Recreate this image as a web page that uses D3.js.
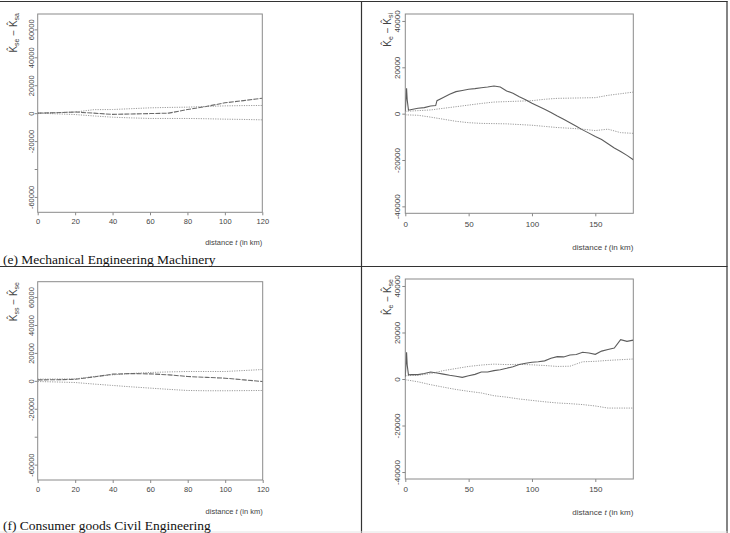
<!DOCTYPE html>
<html><head><meta charset="utf-8">
<script src="https://cdn.jsdelivr.net/npm/d3@7"></script>
<style>body{margin:0;background:#fff}svg{display:block}</style>
</head><body>
<svg id="c" width="730" height="533"></svg>
<script>
// ---------- data ----------
const captions = ["(e) Mechanical Engineering Machinery", "(f) Consumer goods Civil Engineering"];

const xTicksLeft = [0, 20, 40, 60, 80, 100, 120];
const xTicksRight = [0, 50, 100, 150];
const yTicksLeft = [-60000, -40000, -20000, 0, 20000, 40000, 60000];
const yLabelsLeft = ["-60000", "", "-20000", "0", "20000", "40000", "60000"];
const yTicksRight = [-40000, -20000, 0, 20000, 40000];
const yLabelsRight = ["-40000", "-20000", "0", "20000", "40000"];

// (e) left
const distE1 = [0, 10, 20, 30, 40, 50, 60, 70, 80, 90, 100, 110, 120];
const obsE1 = [0, 300, 800, 0, -900, -600, -300, 0, 2600, 4800, 7400, 9000, 10700];
const upE1 = [0, 400, 800, 2500, 2600, 3200, 3800, 4100, 4300, 4800, 5200, 5400, 5500];
const loE1 = [0, -500, -1000, -2000, -2900, -3400, -3800, -3800, -3800, -4000, -4300, -4500, -4800];

// (e) right
const distObsE2 = [0, 1, 1.5, 2.5, 5, 10, 15, 20, 24, 25, 30, 35, 40, 45, 50, 55, 60, 65, 70, 75, 80, 85, 90, 95, 100, 105, 110, 115, 120, 125, 130, 135, 140, 145, 150, 155, 160, 165, 170, 175, 180];
const obsE2 = [1000, 11000, 6000, 1500, 1800, 2300, 2600, 3300, 3500, 5600, 7000, 8400, 9500, 10000, 10500, 10800, 11200, 11500, 11900, 11500, 9800, 8800, 7300, 6000, 4500, 3200, 1900, 500, -1000, -2400, -3900, -5400, -7000, -8400, -9900, -11200, -13000, -14800, -16300, -18000, -19900];
const distEnvE2 = [0, 10, 20, 30, 40, 50, 60, 70, 80, 90, 100, 110, 120, 130, 140, 150, 160, 170, 180];
const upE2 = [1000, 1300, 1600, 2300, 3000, 3700, 4400, 5000, 5200, 5400, 5600, 6200, 6600, 6700, 6800, 6900, 7900, 8600, 9300];
const loE2 = [-500, -700, -1500, -2400, -3300, -3900, -4200, -4300, -4400, -4700, -5000, -5500, -6000, -6300, -6700, -7300, -6700, -8200, -8500];

// (f) left
const distF1 = [0, 10, 20, 30, 40, 50, 60, 70, 80, 90, 100, 110, 120];
const obsF1 = [700, 800, 1100, 2800, 4800, 5200, 5000, 4300, 3100, 2500, 1900, 700, -500];
const upF1 = [1200, 1300, 1400, 3100, 4300, 5300, 6000, 6400, 6700, 6700, 6700, 7400, 8100];
const loF1 = [-500, -800, -1200, -2300, -3300, -4300, -5200, -6100, -6900, -7100, -7100, -7000, -6900];

// (f) right
const distObsF2 = [0, 1, 1.5, 2.5, 5, 10, 15, 20, 25, 30, 35, 40, 45, 50, 55, 60, 65, 70, 75, 80, 85, 90, 95, 100, 105, 110, 115, 120, 125, 130, 135, 140, 145, 150, 155, 160, 165, 170, 175, 180];
const obsF2 = [1000, 11500, 6000, 1800, 1900, 1900, 2400, 3000, 2600, 2100, 1600, 1200, 700, 1400, 2000, 3000, 3000, 3600, 4000, 4600, 5300, 6200, 6800, 7200, 7400, 7800, 8900, 9600, 9500, 10300, 10500, 11500, 11200, 10600, 12000, 12700, 13300, 16900, 16200, 16700];
const distEnvF2 = [0, 10, 20, 30, 40, 50, 60, 70, 80, 90, 100, 110, 120, 130, 140, 150, 160, 170, 180];
const upF2 = [1400, 1600, 2300, 3600, 4500, 5400, 6000, 6400, 6200, 6300, 6100, 5800, 5400, 5500, 7400, 7600, 8000, 8300, 8600];
const loF2 = [-300, -1200, -2450, -3500, -4500, -5300, -6000, -7200, -7800, -8600, -9200, -9800, -10300, -10600, -11000, -11600, -12500, -12500, -12500];

// ---------- drawing ----------
const svg = d3.select("#c");
const zip = (xs, ys) => xs.map((x, i) => [x, ys[i]]);

// table lines
const tbl = svg.append("g").attr("stroke", "#333").attr("stroke-width", 1.2);
tbl.append("line").attr("x1", 0).attr("x2", 727.5).attr("y1", 1.5).attr("y2", 1.5);
tbl.append("line").attr("x1", 0).attr("x2", 727.5).attr("y1", 266.5).attr("y2", 266.5);
tbl.append("line").attr("x1", 361.5).attr("x2", 361.5).attr("y1", 1).attr("y2", 533);
tbl.append("line").attr("x1", 727).attr("x2", 727).attr("y1", 1).attr("y2", 533);
svg.append("line").attr("x1", 0).attr("x2", 727.5).attr("y1", 532).attr("y2", 532)
  .attr("stroke", "#e4e4e4").attr("stroke-width", 1);

function panel(o) {
  const x = d3.scaleLinear().domain(o.xDomain).range([o.x0, o.x1]);
  const y = d3.scaleLinear().domain(o.yDomain).range([o.y1, o.y0]);
  const g = svg.append("g");
  const fs = o.fs;

  // x axis
  const xa = g.append("g").attr("transform", `translate(0,${o.y1})`)
    .call(d3.axisBottom(x).tickValues(o.xTicks).tickSize(3).tickFormat(d3.format("d")));
  xa.select(".domain").remove();
  xa.selectAll("line").attr("stroke", "#888");
  xa.selectAll("text").attr("font-family", "Liberation Sans, Arial, sans-serif")
    .attr("font-size", fs).attr("fill", "#444").attr("dy", null).attr("y", o.xLabY - o.y1);

  // y axis
  const ya = g.append("g").attr("transform", `translate(${o.x0},0)`)
    .call(d3.axisLeft(y).tickValues(o.yTicks).tickSize(3).tickFormat((d, i) => o.yLabels[i]));
  ya.select(".domain").remove();
  ya.selectAll("line").attr("stroke", "#888");
  ya.selectAll("text").attr("font-family", "Liberation Sans, Arial, sans-serif")
    .attr("font-size", fs).attr("fill", "#444")
    .attr("x", null).attr("dy", null)
    .attr("text-anchor", "middle")
    .attr("transform", `translate(${o.yLabX - o.x0 + fs * 0.35},0) rotate(-90)`);

  // box
  g.append("rect").attr("x", o.x0).attr("y", o.y0).attr("width", o.x1 - o.x0).attr("height", o.y1 - o.y0)
    .attr("fill", "none").attr("stroke", "#8a8a8a").attr("stroke-width", 1);

  const line = d3.line().x(d => x(d[0])).y(d => y(d[1]));
  const clip = "clip" + o.id;
  g.append("clipPath").attr("id", clip).append("rect")
    .attr("x", o.x0).attr("y", o.y0).attr("width", o.x1 - o.x0).attr("height", o.y1 - o.y0);
  const pl = g.append("g").attr("clip-path", `url(#${clip})`).attr("fill", "none");
  pl.append("path").attr("d", line(zip(o.envX, o.up)))
    .attr("stroke", "#9a9a9a").attr("stroke-width", 1).attr("stroke-dasharray", "1.2,1.2");
  pl.append("path").attr("d", line(zip(o.envX, o.lo)))
    .attr("stroke", "#9a9a9a").attr("stroke-width", 1).attr("stroke-dasharray", "1.2,1.2");
  pl.append("path").attr("d", line(zip(o.obsX, o.obs)))
    .attr("stroke", o.dash ? "#6a6a6a" : "#5c5c5c").attr("stroke-width", 1.1)
    .attr("stroke-dasharray", o.dash || null);

  // y title
  const tfs = o.tfs;
  const yt = g.append("text").attr("font-family", "Liberation Sans, Arial, sans-serif")
    .attr("font-size", tfs).attr("fill", "#444").attr("text-anchor", "end")
    .attr("transform", `translate(${o.yTitleX},${o.yTitleY}) rotate(-90)`);
  yt.append("tspan").text("K\u0302");
  yt.append("tspan").attr("font-size", tfs - 3).attr("dy", 2).text(o.sub1);
  yt.append("tspan").attr("dy", -2).text(" \u2212 K\u0302");
  yt.append("tspan").attr("font-size", tfs - 3).attr("dy", 2).text(o.sub2);

  // x title
  const xt = g.append("text").attr("font-family", "Liberation Sans, Arial, sans-serif")
    .attr("font-size", fs).attr("fill", "#444").attr("text-anchor", "end")
    .attr("x", o.x1).attr("y", o.xTitleY);
  xt.append("tspan").text("distance ");
  xt.append("tspan").attr("font-style", "italic").text("t");
  xt.append("tspan").text(" (in km)");

  if (o.caption) {
    svg.append("text").attr("x", 3).attr("y", o.capY)
      .attr("font-family", "Liberation Serif, Times New Roman, serif").attr("font-size", 13.5)
      .attr("fill", "#111").text(o.caption);
  }
}

panel({id: "e1", x0: 37.7, x1: 262.3, y0: 14, y1: 212.3, xDomain: [0, 120], yDomain: [-71000, 71000],
  xTicks: xTicksLeft, yTicks: yTicksLeft, yLabels: yLabelsLeft, fs: 7.5, tfs: 10,
  xLabY: 224, yLabX: 31, yTitleX: 17, yTitleY: 13, xTitleY: 245, sub1: "se", sub2: "sa",
  obsX: distE1, obs: obsE1, envX: distE1, up: upE1, lo: loE1, dash: "5,1.2",
  caption: captions[0], capY: 263.5});

panel({id: "e2", x0: 405.3, x1: 633.3, y0: 14, y1: 213.3, xDomain: [0, 180], yDomain: [-43000, 43000],
  xTicks: xTicksRight, yTicks: yTicksRight, yLabels: yLabelsRight, fs: 8, tfs: 10,
  xLabY: 227, yLabX: 397, yTitleX: 391, yTitleY: 13, xTitleY: 249.5, sub1: "e", sub2: "si",
  obsX: distObsE2, obs: obsE2, envX: distEnvE2, up: upE2, lo: loE2});

panel({id: "f1", x0: 37.7, x1: 262.7, y0: 281.7, y1: 480, xDomain: [0, 120], yDomain: [-71000, 71000],
  xTicks: xTicksLeft, yTicks: yTicksLeft, yLabels: yLabelsLeft, fs: 7.5, tfs: 10,
  xLabY: 492, yLabX: 31, yTitleX: 17, yTitleY: 282, xTitleY: 514, sub1: "ss", sub2: "se",
  obsX: distF1, obs: obsF1, envX: distF1, up: upF1, lo: loF1, dash: "5,1.2",
  caption: captions[1], capY: 529.5});

panel({id: "f2", x0: 405.3, x1: 633.3, y0: 279, y1: 479, xDomain: [0, 180], yDomain: [-43000, 43000],
  xTicks: xTicksRight, yTicks: yTicksRight, yLabels: yLabelsRight, fs: 8, tfs: 10,
  xLabY: 492, yLabX: 397, yTitleX: 391, yTitleY: 279, xTitleY: 514.5, sub1: "e", sub2: "se",
  obsX: distObsF2, obs: obsF2, envX: distEnvF2, up: upF2, lo: loF2});
</script>
</body></html>
